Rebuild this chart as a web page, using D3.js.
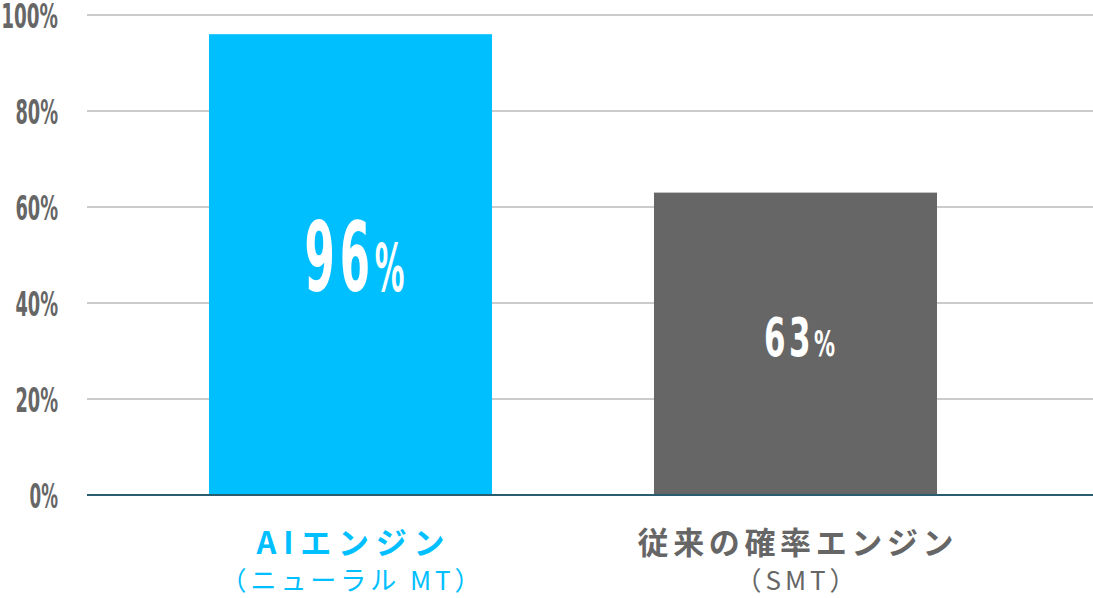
<!DOCTYPE html>
<html><head><meta charset="utf-8">
<script src="https://cdn.jsdelivr.net/npm/d3@7"></script>
<style>
html,body{margin:0;padding:0;background:#fff;}
svg{display:block;}
</style></head>
<body>
<svg id="chart" width="1093" height="598"></svg>
<script>
const categories = ["AIエンジン", "従来の確率エンジン"];
const subLabels = ["（ニューラル MT）", "（SMT）"];
const values = [96, 63];
const tickValues = [0, 20, 40, 60, 80, 100];
const tickLabels = ["0%", "20%", "40%", "60%", "80%", "100%"];

const colors = ["#00BFFF", "#666666"];
const labelColors = ["#00BFFF", "#666666"];
const valueStyle = [{big: 97, small: 66, len: 100, dy: -9}, {big: 53, small: 36, len: 71, dy: -7}];
const catLen = [188, 316];
const subLen = [260, 120];

const svg = d3.select("#chart");
const y = d3.scaleLinear().domain([0, 100]).range([495, 15]);
const x = d3.scaleBand().domain(categories).range([128, 1018]).paddingInner(0.364).paddingOuter(0.182);

// gridlines
svg.append("g").selectAll("line").data(tickValues.filter(v => v > 0)).join("line")
  .attr("x1", 87).attr("x2", 1093)
  .attr("y1", d => y(d)).attr("y2", d => y(d))
  .attr("stroke", "#cccccc").attr("stroke-width", 2);

// tick labels
svg.append("g").selectAll("text").data(tickValues).join("text")
  .attr("x", 58).attr("y", d => y(d) + 13)
  .attr("text-anchor", "end")
  .attr("font-family", "'Liberation Sans Narrow','DejaVu Sans Condensed',sans-serif")
  .attr("font-weight", "bold")
  .attr("font-size", 34)
  .attr("fill", "#666666")
  .attr("textLength", (d, i) => tickLabels[i].length * 14.2)
  .attr("lengthAdjust", "spacingAndGlyphs")
  .text((d, i) => tickLabels[i]);

// bars
svg.append("g").selectAll("rect").data(values).join("rect")
  .attr("x", (d, i) => x(categories[i]))
  .attr("width", x.bandwidth())
  .attr("y", d => y(d))
  .attr("height", d => y(0) - y(d))
  .attr("fill", (d, i) => colors[i]);

// baseline
svg.append("line").attr("x1", 87).attr("x2", 1093)
  .attr("y1", y(0)).attr("y2", y(0))
  .attr("stroke", "#2a5c70").attr("stroke-width", 2);

// value labels
values.forEach((v, i) => {
  const s = valueStyle[i];
  const cx = x(categories[i]) + x.bandwidth() / 2 + 4;
  const cy = (y(v) + y(0)) / 2 + s.big * 0.36 + s.dy;
  const t = svg.append("text")
    .attr("x", cx).attr("y", cy)
    .attr("text-anchor", "middle")
    .attr("font-family", "'Liberation Sans Narrow','DejaVu Sans Condensed',sans-serif")
    .attr("font-weight", "bold")
    .attr("fill", "#ffffff")
    .attr("textLength", s.len)
    .attr("lengthAdjust", "spacingAndGlyphs");
  t.append("tspan").attr("font-size", s.big).attr("letter-spacing", s.big * 0.1).text(String(v));
  t.append("tspan").attr("font-size", s.small).text("%");
});

// category labels
svg.append("g").selectAll("text").data(categories).join("text")
  .attr("x", d => x(d) + x.bandwidth() / 2)
  .attr("y", 554)
  .attr("text-anchor", "middle")
  .attr("font-family", "'Noto Sans CJK JP',sans-serif")
  .attr("font-weight", "bold")
  .attr("font-size", 31)
  .attr("fill", (d, i) => labelColors[i])
  .attr("textLength", (d, i) => catLen[i])
  .attr("lengthAdjust", "spacing")
  .text(d => d);

svg.append("g").selectAll("text").data(subLabels).join("text")
  .attr("x", (d, i) => x(categories[i]) + x.bandwidth() / 2)
  .attr("y", 590)
  .attr("text-anchor", "middle")
  .attr("font-family", "'Noto Sans CJK JP',sans-serif")
  .attr("font-size", 26)
  .attr("fill", (d, i) => labelColors[i])
  .attr("textLength", (d, i) => subLen[i])
  .attr("lengthAdjust", "spacing")
  .text(d => d);
</script>
</body></html>
